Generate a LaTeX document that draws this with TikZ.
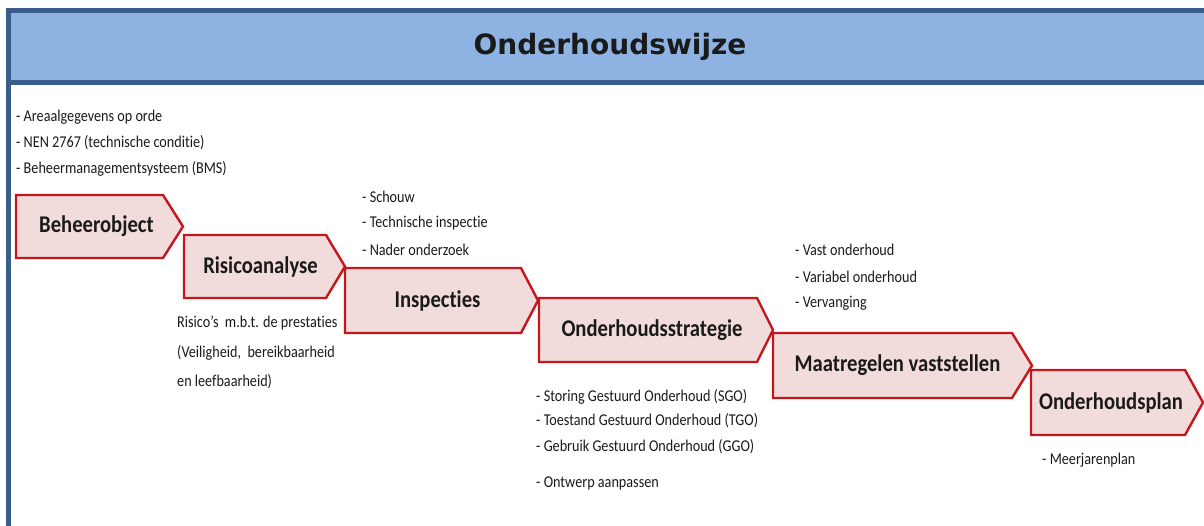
\documentclass[tikz,border=0pt]{standalone}
\usepackage{fontspec}
\setmainfont{Carlito}
\newfontfamily\condfont[FakeStretch=0.86,Ligatures=NoCommon]{Carlito}
\newfontfamily\titlefont{DejaVu Sans}
\definecolor{hdrfill}{HTML}{8EB3E2}
\definecolor{hdrline}{HTML}{3A5E8C}
\definecolor{chevfill}{HTML}{F2DCDB}
\definecolor{chevline}{HTML}{C4161C}
\definecolor{txt}{HTML}{1A1A1A}
\tikzset{
  chevbox/.style={draw=chevline, fill=chevfill, line width=2.4pt, line join=miter},
  chevlabel/.style={font=\condfont\bfseries\fontsize{24}{26}\selectfont, text=txt, inner sep=0pt},
  notes/.style={font=\condfont\fontsize{16.5}{19}\selectfont, text=txt, inner sep=0pt, anchor=west},
}
\newcommand\chevron[8]{%
  % #1 name, #2 left, #3 top, #4 rect right, #5 tip, #6 bottom, #7 text xshift, #8 text
  \draw[chevbox] (#2,#3) -- (#4,#3) -- (#5,{(#3+#6)/2}) -- (#4,#6) -- (#2,#6) -- cycle;
  \node[chevlabel] (#1) at ({(#2+#5)/2+#7},{(#3+#6)/2}) {#8};
}
\begin{document}
\begin{tikzpicture}[x=1pt,y=-1pt]
\useasboundingbox (0,0) rectangle (1204,525);
% header and frame
\fill[hdrfill] (8.5,10.5) rectangle (1210,82.5);
\draw[hdrline, line width=4.5pt] (1210,10.5) -- (8.5,10.5) -- (8.5,530);
\draw[hdrline, line width=4.5pt] (8.5,82.5) -- (1210,82.5);
\node[font=\titlefont\bfseries\fontsize{28}{30}\selectfont, text=txt, inner sep=0pt] (title) at (610,47) {Onderhoudswijze};
% chevrons
\chevron{beheer}{16}{195}{163}{183}{258}{-3}{Beheerobject}
\chevron{risico}{184}{235}{326}{345}{298}{-4}{Risicoanalyse}
\chevron{insp}{345}{268}{521}{538}{333}{-4}{Inspecties}
\chevron{strat}{539}{298}{757}{773}{362}{-4}{Onderhoudsstrategie}
\chevron{maat}{773}{333}{1012}{1032}{398}{-5}{Maatregelen vaststellen}
\chevron{plan}{1031}{370}{1185}{1203}{435}{-6}{Onderhoudsplan}
% notes
\node[notes] (n1) at (16,117) {- Areaalgegevens op orde};
\node[notes] (n2) at (16,143) {- NEN 2767 (technische conditie)};
\node[notes] (n3) at (16,169) {- Beheermanagementsysteem (BMS)};
\node[notes] (r1) at (177,323) {Risico’s\ \ m.b.t. de prestaties};
\node[notes] (r2) at (177,353) {(Veiligheid,\ \ bereikbaarheid};
\node[notes] (r3) at (177,382) {en leefbaarheid)};
\node[notes] (i1) at (362,197) {- Schouw};
\node[notes] (i2) at (362,223) {- Technische inspectie};
\node[notes] (i3) at (362,250) {- Nader onderzoek};
\node[notes] (s1) at (536,397) {- Storing Gestuurd Onderhoud (SGO)};
\node[notes] (s2) at (536,421) {- Toestand Gestuurd Onderhoud (TGO)};
\node[notes] (s3) at (536,447) {- Gebruik Gestuurd Onderhoud (GGO)};
\node[notes] (s4) at (536,483) {- Ontwerp aanpassen};
\node[notes] (m1) at (795,250) {- Vast onderhoud};
\node[notes] (m2) at (795,277) {- Variabel onderhoud};
\node[notes] (m3) at (795,303) {- Vervanging};
\node[notes] (p1) at (1042,460) {- Meerjarenplan};
\end{tikzpicture}
\end{document}
